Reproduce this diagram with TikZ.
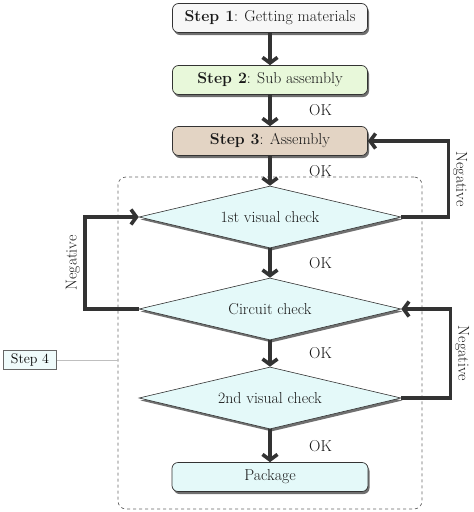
\documentclass[tikz,border=0pt]{standalone}
\usepackage{fontspec}
\usepackage{tikz}
\usetikzlibrary{shapes.geometric,arrows.meta,shadows}

\definecolor{stepwhite}{HTML}{F7F7F7}
\definecolor{stepgreen}{HTML}{E8F8DA}
\definecolor{steptan}{HTML}{E3D4C4}
\definecolor{checkcyan}{HTML}{E4F9F9}
\definecolor{linedark}{HTML}{333333}

\tikzset{
  boxshadow/.style={drop shadow={shadow xshift=1.5pt, shadow yshift=-2.5pt, fill=black!70, opacity=0.8}},
  stepbox/.style={draw=linedark, line width=0.7pt, rounded corners=6pt, minimum width=195pt,
    minimum height=29pt, boxshadow, text=black!90},
  checkbox/.style={diamond, draw=linedark, line width=0.6pt, fill=checkcyan, aspect=4.2,
    minimum width=262pt, minimum height=62pt, inner sep=0pt, boxshadow, text=black!90},
  flow/.style={draw=linedark, line width=3.6pt, -{Straight Barb[length=5.5pt,width=15pt]}},
  ok/.style={anchor=west, xshift=34pt, text=black!90},
  neg/.style={anchor=south, inner sep=3pt, text=black!90},
  frame/.style={draw=black!60, dashed, line width=0.7pt, rounded corners=8pt},
}

\begin{document}
\begin{tikzpicture}[x=1pt, y=-1pt, font=\fontsize{15.8}{18}\selectfont]
  \useasboundingbox (0,0) rectangle (474,512);

  % Step 4 frame
  \node[frame, minimum width=304pt, minimum height=332pt] (frame) at (270,343) {};

  % Steps 1-3
  \node[stepbox, fill=stepwhite] (step1) at (270,18) {\textbf{Step 1}: Getting materials};
  \node[stepbox, fill=stepgreen] (step2) at (270,80) {\textbf{Step 2}: Sub assembly};
  \node[stepbox, fill=steptan] (step3) at (270,141) {\textbf{Step 3}: Assembly};

  % Checks
  \node[checkbox] (check1) at (270,217) {1st visual check};
  \node[checkbox] (check2) at (270,309) {Circuit check};
  \node[checkbox] (check3) at (270,398) {2nd visual check};
  \node[stepbox, fill=checkcyan, minimum width=196pt] (package) at (270,477) {Package};

  % Step 4 label
  \node[draw=black!60, fill=checkcyan!60, line width=0.6pt, inner sep=2pt,
    minimum width=53pt, minimum height=19pt, font=\fontsize{14}{16}\selectfont] (step4) at (30,360) {Step 4};
  \draw[black!25, line width=0.8pt] (step4.east) -- (step4.east -| frame.west);

  % Main flow
  \draw[flow] (step1) -- (step2);
  \draw[flow] (step2) -- node[ok]{OK} (step3);
  \draw[flow] (step3) -- node[ok]{OK} (check1);
  \draw[flow] (check1) -- node[ok]{OK} (check2);
  \draw[flow] (check2) -- node[ok]{OK} (check3);
  \draw[flow] (check3) -- node[ok]{OK} (package);

  % Negative loops
  \draw[flow] (check1.east) -- ++(47,0) |- node[neg, pos=0.25, rotate=-90]{Negative} (step3.east);
  \draw[flow] (check2.west) -- ++(-54,0) |- node[neg, pos=0.25, rotate=90]{Negative} (check1.west);
  \draw[flow] (check3.east) -- ++(49,0) |- node[neg, pos=0.25, rotate=-90]{Negative} (check2.east);
\end{tikzpicture}
\end{document}
